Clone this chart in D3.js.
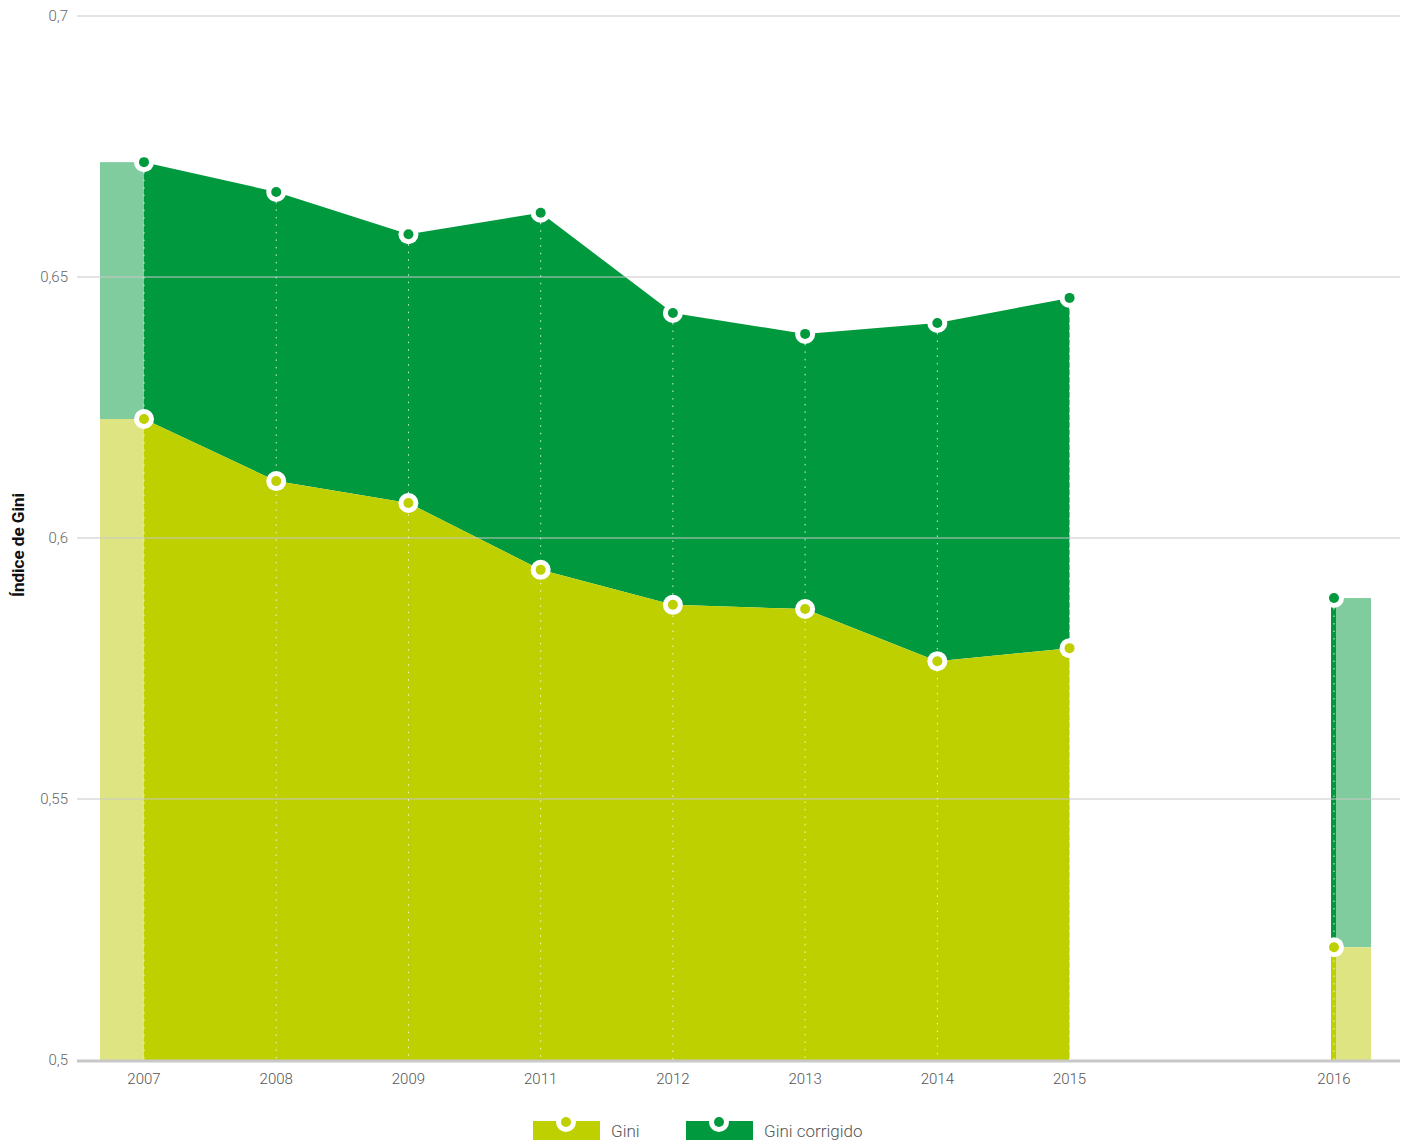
<!DOCTYPE html>
<html>
<head>
<meta charset="utf-8">
<script src="https://cdn.jsdelivr.net/npm/d3@7"></script>
<style>
  body { margin: 0; background: #fff; }
  svg text { font-family: "Roboto", "Liberation Sans", sans-serif; }
</style>
</head>
<body>
<svg id="chart" width="1405" height="1142"></svg>
<script>
// Data
const years = ['2007', '2008', '2009', '2011', '2012', '2013', '2014', '2015', '2016'];
const slots = [0, 1, 2, 3, 4, 5, 6, 7, 9]; // 2016 sits one slot further right
const gini = [0.6228, 0.6109, 0.6067, 0.5939, 0.5872, 0.5864, 0.5764, 0.5789, 0.5216];
const giniCorrigido = [0.6720, 0.6663, 0.6582, 0.6623, 0.6431, 0.6391, 0.6412, 0.6460, 0.5885];
const yTicks = [0.5, 0.55, 0.6, 0.65, 0.7];

const colGini = '#bfd000';
const colGiniLight = '#dfe483';
const colCorr = '#00993e';
const colCorrLight = '#80cc9e';
const colGrid = '#c8c8c8';

const svg = d3.select('#chart');
const margin = { top: 16, right: 5, bottom: 82, left: 77 };
const width = 1405 - margin.left - margin.right;
const height = 1142 - margin.top - margin.bottom;

const x = d3.scaleLinear().domain([0, 9]).range([144 - margin.left, 1334 - margin.left]);
const y = d3.scaleLinear().domain([0.5, 0.7]).range([height, 0]);

const g = svg.append('g').attr('transform', `translate(${margin.left},${margin.top})`);

const rows = years.map((yr, i) => ({ year: yr, slot: slots[i], gini: gini[i], corr: giniCorrigido[i] }));
const main = rows.slice(0, 8);
const first = rows[0];
const last = rows[8];

// light extension blocks
const ext = 44;
g.append('rect').attr('x', x(first.slot) - ext).attr('width', ext)
  .attr('y', y(first.corr)).attr('height', y(first.gini) - y(first.corr)).attr('fill', colCorrLight);
g.append('rect').attr('x', x(first.slot) - ext).attr('width', ext)
  .attr('y', y(first.gini)).attr('height', y(0.5) - y(first.gini)).attr('fill', colGiniLight);
g.append('rect').attr('x', x(last.slot) + 2).attr('width', 35)
  .attr('y', y(last.corr)).attr('height', y(last.gini) - y(last.corr)).attr('fill', colCorrLight);
g.append('rect').attr('x', x(last.slot) + 2).attr('width', 35)
  .attr('y', y(last.gini)).attr('height', y(0.5) - y(last.gini)).attr('fill', colGiniLight);
// thin strips for 2016
g.append('rect').attr('x', x(last.slot) - 3).attr('width', 5)
  .attr('y', y(last.corr)).attr('height', y(last.gini) - y(last.corr)).attr('fill', colCorr);
g.append('rect').attr('x', x(last.slot) - 3).attr('width', 5)
  .attr('y', y(last.gini)).attr('height', y(0.5) - y(last.gini)).attr('fill', colGini);

// areas
g.append('path').datum(main)
  .attr('fill', colCorr)
  .attr('d', d3.area().x(d => x(d.slot)).y0(d => y(d.gini)).y1(d => y(d.corr)));
g.append('path').datum(main)
  .attr('fill', colGini)
  .attr('d', d3.area().x(d => x(d.slot)).y0(y(0.5)).y1(d => y(d.gini)));

// grid
g.append('g')
  .selectAll('line')
  .data(yTicks.filter(t => t > 0.5))
  .enter()
  .append('line')
  .attr('x1', 0).attr('x2', width)
  .attr('y1', d => y(d)).attr('y2', d => y(d))
  .attr('stroke', colGrid).attr('stroke-width', 1.2);

g.append('line')
  .attr('x1', 0).attr('x2', width)
  .attr('y1', y(0.5) + 1).attr('y2', y(0.5) + 1)
  .attr('stroke', colGrid).attr('stroke-width', 3);

// y tick labels
g.append('g')
  .selectAll('text')
  .data(yTicks)
  .enter()
  .append('text')
  .attr('x', -9)
  .attr('y', d => y(d))
  .attr('dy', '0.3em')
  .attr('text-anchor', 'end')
  .attr('fill', '#666')
  .style('font-size', '15px')
  .style('font-weight', 300)
  .text(d => d3.format('.2~f')(d).replace('.', ','));

// x tick labels
g.append('g')
  .selectAll('text')
  .data(rows)
  .enter()
  .append('text')
  .attr('x', d => x(d.slot))
  .attr('y', y(0.5) + 24)
  .attr('text-anchor', 'middle')
  .attr('fill', '#555')
  .style('font-size', '15px')
  .style('font-weight', 300)
  .text(d => d.year);

// y axis title
svg.append('text')
  .attr('transform', 'translate(24,545) rotate(-90)')
  .attr('text-anchor', 'middle')
  .attr('fill', '#111')
  .style('font-size', '17px')
  .style('font-weight', 'bold')
  .text('Índice de Gini');

// dotted drop lines
g.append('g')
  .selectAll('line')
  .data(rows)
  .enter()
  .append('line')
  .attr('x1', d => x(d.slot)).attr('x2', d => x(d.slot))
  .attr('y1', d => y(d.corr) + 10).attr('y2', y(0.5))
  .attr('stroke', '#fff').attr('stroke-width', 1)
  .attr('stroke-dasharray', '1.5,6')
  .attr('opacity', 0.85);

// markers
function markers(key, color) {
  const m = g.append('g').selectAll('g')
    .data(rows)
    .enter()
    .append('g')
    .attr('transform', d => `translate(${x(d.slot)},${y(d[key])})`);
  m.append('circle').attr('r', 10).attr('fill', '#fff');
  m.append('circle').attr('r', 5).attr('fill', color);
}
markers('corr', colCorr);
markers('gini', colGini);

// legend
const legend = [
  { label: 'Gini', color: colGini, x: 533 },
  { label: 'Gini corrigido', color: colCorr, x: 686 }
];
const lg = svg.append('g').selectAll('g')
  .data(legend)
  .enter()
  .append('g')
  .attr('transform', d => `translate(${d.x},1121)`);
lg.append('rect').attr('width', 67).attr('height', 19).attr('fill', d => d.color);
lg.append('circle').attr('cx', 33).attr('cy', 1).attr('r', 10).attr('fill', '#fff');
lg.append('circle').attr('cx', 33).attr('cy', 1).attr('r', 5).attr('fill', d => d.color);
lg.append('text')
  .attr('x', 78).attr('y', 16)
  .attr('fill', '#555')
  .style('font-size', '17px')
  .style('font-weight', 300)
  .text(d => d.label);
</script>
</body>
</html>
